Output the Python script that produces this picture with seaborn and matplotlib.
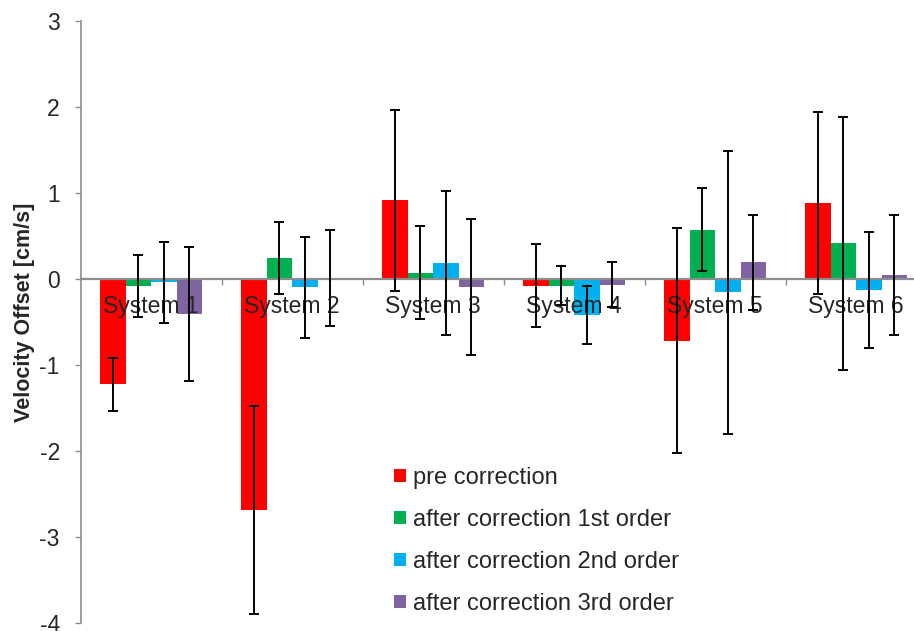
import pandas as pd
import matplotlib
matplotlib.use("Agg")
import matplotlib.pyplot as plt
import seaborn as sns

# chart data

systems = ["System 1", "System 2", "System 3", "System 4", "System 5", "System 6"]
series_names = ["pre correction", "after correction 1st order",
                "after correction 2nd order", "after correction 3rd order"]

pre = [-1.23, -2.69, 0.91, -0.08, -0.72, 0.88]
pre_err = [0.31, 1.21, 1.05, 0.48, 1.31, 1.055]
first = [-0.09, 0.24, 0.07, -0.08, 0.57, 0.41]
first_err = [0.36, 0.42, 0.54, 0.23, 0.48, 1.47]
second = [-0.04, -0.10, 0.18, -0.42, -0.16, -0.13]
second_err = [0.47, 0.59, 0.84, 0.34, 1.65, 0.67]
third = [-0.41, 0.01, -0.10, -0.07, 0.19, 0.04]
third_err = [0.78, 0.56, 0.79, 0.26, 0.55, 0.70]

colors = ["#FF0000", "#00B050", "#00B0F0", "#8064A2"]

# long form table for seaborn

values = [pre, first, second, third]
errors = [pre_err, first_err, second_err, third_err]
rows = []
for name, vals, errs in zip(series_names, values, errors):
    for s, v, e in zip(systems, vals, errs):
        rows.append({"system": s, "series": name, "value": v, "err": e})
df = pd.DataFrame(rows)

sns.set_style("white")
plt.rcParams["font.family"] = ["Liberation Sans", "DejaVu Sans"]
plt.rcParams["axes.unicode_minus"] = False

fig = plt.figure(figsize=(9.14, 6.31), dpi=100)
ax = fig.add_axes([80.7 / 914, 8.3 / 631, 846 / 914, 602 / 631])

sns.barplot(data=df, x="system", y="value", hue="series", order=systems,
            hue_order=series_names, palette=colors, width=0.723,
            saturation=1, errorbar=None, linewidth=0, ax=ax)

# error bars on the bar centres
for container, vals, errs in zip(ax.containers, values, errors):
    xs = [b.get_x() + b.get_width() / 2 for b in container]
    ax.errorbar(xs, vals, yerr=errs, fmt="none", ecolor="black",
                elinewidth=1.4, capsize=3.4, capthick=1.4, zorder=3)

# axes styling
ax.set_axisbelow(False)
ax.set_ylim(-4, 3)
ax.set_xlim(-0.5, 5.5)
ax.set_yticks(range(-4, 4))
ax.spines["top"].set_visible(False)
ax.spines["right"].set_visible(False)
ax.spines["bottom"].set_position(("data", 0))
for side in ["left", "bottom"]:
    ax.spines[side].set_color("#8c8c8c")
ax.spines["left"].set_linewidth(1.2)
ax.spines["bottom"].set_linewidth(1.6)

ax.tick_params(axis="y", which="major", left=True, direction="out", length=4,
               width=1, color="#8c8c8c", labelsize=16.5, pad=11)
ax.tick_params(axis="x", which="major", bottom=True, length=0, labelsize=16.5, pad=12)
ax.set_xticks([i + 0.5 for i in range(5)], minor=True)
ax.tick_params(axis="x", which="minor", bottom=True, direction="out", length=4,
               width=1, color="#8c8c8c")

ax.set_xlabel("")
ax.set_ylabel("Velocity Offset [cm/s]", fontsize=15.5, fontweight="bold")
ax.yaxis.set_label_coords(-0.054, 0.516)

# legend
handles, labels = ax.get_legend_handles_labels()
ax.legend(handles, labels, loc="center left",
          bbox_to_anchor=(394 / 914, 1 - 541 / 631), bbox_transform=fig.transFigure,
          frameon=False, fontsize=17, handlelength=0.5, handleheight=0.5,
          handletextpad=0.3, labelspacing=0.85, borderpad=0, borderaxespad=0)

fig.savefig("out.png", dpi=100)
